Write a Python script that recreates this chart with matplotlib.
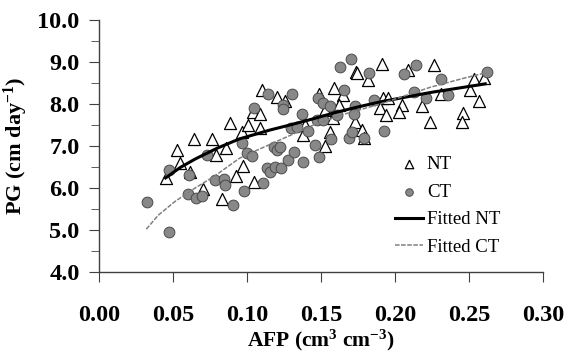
import matplotlib
matplotlib.use("Agg")
import matplotlib.pyplot as plt
from matplotlib.ticker import MultipleLocator, FormatStrFormatter

# NT observations (triangles)
nt_x = [0.045, 0.0547, 0.053, 0.0615, 0.064, 0.0764, 0.0788, 0.0858, 0.0885, 0.0705,
        0.083, 0.0975, 0.0926, 0.105, 0.0966, 0.1005, 0.109, 0.1038, 0.1088, 0.110,
        0.120, 0.126, 0.149, 0.159, 0.165, 0.174, 0.1745, 0.182, 0.191, 0.209,
        0.2266, 0.1527, 0.162, 0.158, 0.173, 0.1775, 0.156, 0.139, 0.138, 0.1527,
        0.179, 0.1917, 0.1955, 0.190, 0.194, 0.205, 0.203, 0.218, 0.224, 0.231,
        0.246, 0.245, 0.251, 0.2536, 0.260, 0.257]
nt_y = [6.23, 6.59, 6.90, 6.39, 7.17, 7.17, 6.79, 6.95, 7.54, 5.97,
        5.73, 6.52, 6.29, 6.15, 7.34, 7.50, 7.42, 7.82, 7.76, 8.33,
        8.17, 8.07, 8.25, 8.37, 8.21, 8.76, 8.73, 8.58, 8.96, 8.81,
        8.94, 7.86, 7.98, 7.66, 7.58, 7.38, 7.34, 7.50, 7.26, 7.00,
        7.18, 8.14, 8.14, 7.90, 7.74, 7.98, 7.80, 7.95, 7.58, 8.24,
        7.78, 7.58, 8.33, 8.59, 8.61, 8.08]

# CT observations (circles)
ct_x = [0.0322, 0.0475, 0.0475, 0.061, 0.0603, 0.0655, 0.0694, 0.073, 0.0781, 0.0847,
        0.0854, 0.0903, 0.0982, 0.0964, 0.0998, 0.1036, 0.111, 0.1133, 0.1155, 0.119,
        0.123, 0.118, 0.120, 0.122, 0.105, 0.114, 0.1245, 0.1245, 0.1275, 0.1306,
        0.163, 0.170, 0.1826, 0.1477, 0.1516, 0.156, 0.1655, 0.173, 0.1725, 0.186,
        0.137, 0.147, 0.1516, 0.1295, 0.1336, 0.141, 0.1605, 0.157, 0.169, 0.171,
        0.179, 0.146, 0.1318, 0.149, 0.138, 0.206, 0.214, 0.231, 0.213, 0.221,
        0.2356, 0.2624, 0.1927]
ct_y = [5.66, 4.96, 6.44, 6.31, 5.86, 5.75, 5.81, 6.79, 6.19, 6.21,
        6.07, 5.60, 5.93, 7.06, 6.84, 6.76, 6.13, 6.47, 6.39, 6.51,
        6.47, 6.98, 6.90, 6.98, 7.90, 8.23, 7.98, 7.87, 6.67, 8.23,
        8.89, 9.06, 8.73, 8.15, 8.03, 7.95, 8.33, 7.95, 7.76, 8.10,
        7.76, 7.62, 7.62, 7.42, 7.45, 7.36, 7.74, 7.16, 7.18, 7.34,
        7.20, 7.02, 6.86, 6.74, 6.62, 8.71, 8.93, 8.59, 8.29, 8.15,
        8.21, 8.77, 7.36]

# fitted curves
fit_nt_x = [0.045, 0.055, 0.065, 0.080, 0.095, 0.1155, 0.129, 0.145, 0.160, 0.175, 0.190, 0.205, 0.225, 0.245, 0.261]
fit_nt_y = [6.24, 6.49, 6.69, 6.95, 7.17, 7.38, 7.50, 7.65, 7.80, 7.93, 8.05, 8.15, 8.28, 8.39, 8.48]
fit_ct_x = [0.032, 0.040, 0.051, 0.065, 0.078, 0.095, 0.110, 0.122, 0.145, 0.165, 0.190, 0.224, 0.245, 0.262]
fit_ct_y = [5.02, 5.35, 5.67, 6.00, 6.28, 6.71, 6.95, 7.14, 7.50, 7.75, 8.00, 8.40, 8.60, 8.75]

plt.rcParams['font.family'] = ['Liberation Serif', 'DejaVu Serif']
plt.rcParams['mathtext.fontset'] = 'custom'
plt.rcParams['mathtext.rm'] = 'Liberation Serif:bold'
plt.rcParams['mathtext.bf'] = 'Liberation Serif:bold'
plt.rcParams['mathtext.it'] = 'Liberation Serif:bold'

fig = plt.figure(figsize=(5.64, 3.56), dpi=100)
ax = fig.add_axes([0.1755, 0.236, 0.7872, 0.7078])

ax.scatter(nt_x, nt_y, marker='^', s=75, facecolor='white', edgecolor='black',
           linewidth=0.9, zorder=3, label='NT')
ax.scatter(ct_x, ct_y, marker='o', s=60, facecolor='#888888', edgecolor='#4a4a4a',
           linewidth=0.7, zorder=3, label='CT')
ax.plot(fit_nt_x, fit_nt_y, color='black', lw=2.2, zorder=4, label='Fitted NT')
ax.plot(fit_ct_x, fit_ct_y, color='#808080', lw=1.1, dashes=(3, 1), zorder=4,
        label='Fitted CT')

ax.set_xlim(0, 0.30)
ax.set_ylim(4.0, 10.0)
ax.xaxis.set_major_locator(MultipleLocator(0.05))
ax.xaxis.set_major_formatter(FormatStrFormatter('%.2f'))
ax.yaxis.set_major_locator(MultipleLocator(1.0))
ax.yaxis.set_minor_locator(MultipleLocator(0.5))
ax.yaxis.set_major_formatter(FormatStrFormatter('%.1f'))

for side in ['top', 'right']:
    ax.spines[side].set_visible(False)
for side in ['left', 'bottom']:
    ax.spines[side].set_color('#404040')
    ax.spines[side].set_linewidth(1.0)
ax.tick_params(axis='both', which='both', direction='out', color='#404040')
ax.tick_params(axis='both', which='major', length=7, labelsize=17.5)
ax.tick_params(axis='y', which='minor', length=6)
ax.tick_params(axis='y', which='major', pad=7)
ax.tick_params(axis='x', which='major', pad=17)
for lab in ax.get_xticklabels() + ax.get_yticklabels():
    lab.set_fontweight('bold')

ax.set_xlabel('AFP (cm$^{3}$ cm$^{-3}$)', fontsize=15.5, fontweight='bold', labelpad=1)
ax.set_ylabel('PG (cm day$^{-1}$)', fontsize=16, fontweight='bold', labelpad=5)

ax.legend(loc='center left', bbox_to_anchor=(0.65, 0.262), frameon=False,
          fontsize=13.5, handlelength=1.5, handletextpad=0.2, labelspacing=0.55,
          borderaxespad=0, markerscale=0.7)

plt.savefig('out.png', dpi=100)
